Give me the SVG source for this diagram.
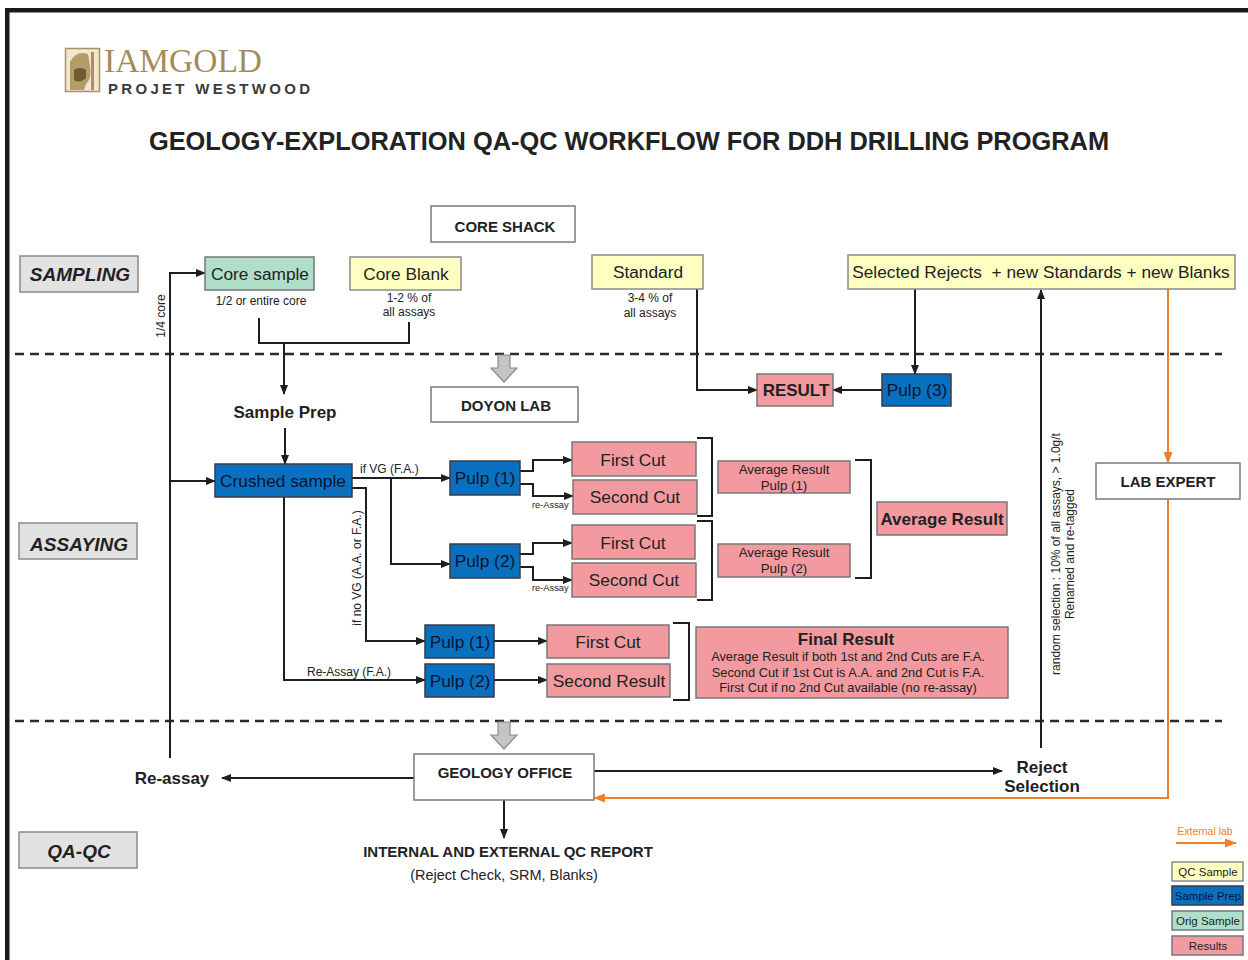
<svg xmlns="http://www.w3.org/2000/svg" width="1248" height="960" viewBox="0 0 1248 960">
<defs>
<marker id="ah" markerUnits="userSpaceOnUse" markerWidth="10" markerHeight="8" refX="9" refY="4" orient="auto"><path d="M0,0 L10,4 L0,8 Z" fill="#1e1e1e"/></marker>
<marker id="aho" markerUnits="userSpaceOnUse" markerWidth="12" markerHeight="9" refX="11" refY="4.5" orient="auto"><path d="M0,0 L12,4.5 L0,9 Z" fill="#ee8127"/></marker>
<style>
text{font-family:"Liberation Sans",Arial,sans-serif;fill:#222}
.b{font-weight:bold}
.c{text-anchor:middle}
.sec{fill:#e2e2e2;stroke:#8a8a8a;stroke-width:1.5}
.wht{fill:#fff;stroke:#7a7a7a;stroke-width:1.5}
.yel{fill:#ffffc2;stroke:#8a8a8a;stroke-width:1.5}
.grn{fill:#b0dfc9;stroke:#777;stroke-width:1.5}
.blu{fill:#0970bf;stroke:#3a3a4a;stroke-width:1.5}
.pnk{fill:#f29aa0;stroke:#777;stroke-width:1.5}
.bt{fill:#0c1530}
.ln{fill:none;stroke:#1e1e1e;stroke-width:2}
.or{fill:none;stroke:#ee8127;stroke-width:2}
.dash{fill:none;stroke:#2a2a2a;stroke-width:2.5;stroke-dasharray:9 6}
.gar{fill:#c4c4c4;stroke:#8a8a8a;stroke-width:1.2}
.t17{font-size:17.3px}
.t11{font-size:12px}
</style>
</defs>
<rect width="1248" height="960" fill="#fff"/>
<!-- frame -->
<rect x="5" y="8" width="1243" height="4.5" fill="#1e1a18"/>
<rect x="5" y="8" width="4.5" height="952" fill="#1e1a18"/>

<!-- logo -->
<g id="logo">
<rect x="65.5" y="48.5" width="34" height="43" fill="#efe7d2" stroke="#a8925e" stroke-width="1.5"/>
<path d="M70,90 L70,62 Q76,50 88,54 L90,66 Q92,78 86,84 L84,90 Z" fill="#b39c68"/>
<path d="M74,70 Q80,66 86,70 L86,78 Q80,84 74,80 Z" fill="#6e5a34"/>
<rect x="91" y="52" width="3" height="38" fill="#a8925e"/>
<text x="104" y="72" font-size="33" textLength="158" lengthAdjust="spacingAndGlyphs" style="font-family:'Liberation Serif',serif;fill:#a48c5a">IAMGOLD</text>
<text x="108" y="93.5" font-size="15" textLength="202" lengthAdjust="spacing" class="b" style="fill:#3a3a3a">PROJET WESTWOOD</text>
</g>

<text id="title" x="629" y="150" class="b c" font-size="25.4">GEOLOGY-EXPLORATION QA-QC WORKFLOW FOR DDH DRILLING PROGRAM</text>

<!-- section separators -->
<g id="separators">
<line class="dash" x1="15" y1="354" x2="1222" y2="354"/>
<line class="dash" x1="15" y1="721" x2="1222" y2="721"/>
</g>

<!-- section labels -->
<g id="sec-sampling"><rect class="sec" x="20" y="256" width="118" height="36"/><text x="80" y="281" class="b c" font-size="19" font-style="italic">SAMPLING</text></g>
<g id="sec-assaying"><rect class="sec" x="19" y="523" width="118" height="36"/><text x="79" y="551" class="b c" font-size="19" font-style="italic">ASSAYING</text></g>
<g id="sec-qaqc"><rect class="sec" x="19" y="832" width="118" height="36"/><text x="79" y="858" class="b c" font-size="19" font-style="italic">QA-QC</text></g>

<!-- connectors -->
<g id="connectors">
<path class="ln" d="M259,318 V343 H409 V322"/>
<path class="ln" d="M284,343 V394" marker-end="url(#ah)"/>
<path class="ln" d="M285,428 V464" marker-end="url(#ah)"/>
<path class="ln" d="M170,758 V273 H205" marker-end="url(#ah)"/>
<path class="ln" d="M170,481 H215" marker-end="url(#ah)"/>
<path class="ln" d="M352,478 H450" marker-end="url(#ah)"/>
<path class="ln" d="M391,478 V564 H450" marker-end="url(#ah)"/>
<path class="ln" d="M352,488 H366 V641 H425" marker-end="url(#ah)"/>
<path class="ln" d="M284,497 V680 H425" marker-end="url(#ah)"/>
<path class="ln" d="M520,471 H533 V460 H572" marker-end="url(#ah)"/>
<path class="ln" d="M520,484 H533 V496 H573" marker-end="url(#ah)"/>
<path class="ln" d="M520,554 H533 V543 H572" marker-end="url(#ah)"/>
<path class="ln" d="M520,567 H533 V580 H572" marker-end="url(#ah)"/>
<path class="ln" d="M494,641 H547" marker-end="url(#ah)"/>
<path class="ln" d="M494,680 H547" marker-end="url(#ah)"/>
<path class="ln" d="M697,289 V390 H757" marker-end="url(#ah)"/>
<path class="ln" d="M882,390 H833" marker-end="url(#ah)"/>
<path class="ln" d="M915,289 V374" marker-end="url(#ah)"/>
<path class="ln" d="M1041,748 V290" marker-end="url(#ah)"/>
<path class="or" d="M1168,289 V463" marker-end="url(#aho)"/>
<path class="or" d="M1168,499 V798 H594" marker-end="url(#aho)"/>
<path class="ln" d="M414,778 H222" marker-end="url(#ah)"/>
<path class="ln" d="M594,771 H1002" marker-end="url(#ah)"/>
<path class="ln" d="M504,800 V838" marker-end="url(#ah)"/>
<!-- brackets -->
<path class="ln" d="M697,438 H712 V516 H697"/>
<path class="ln" d="M697,521 H712 V600 H697"/>
<path class="ln" d="M855,460 H871 V578 H855"/>
<path class="ln" d="M673,623 H689 V700 H673"/>
<!-- gray block arrows -->
<polygon class="gar" points="498,355 510,355 510,368 517,368 504,382 491,368 498,368"/>
<polygon class="gar" points="498,722 510,722 510,735 517,735 504,749 491,735 498,735"/>
</g>

<!-- nodes -->
<g id="core-shack"><rect class="wht" x="431" y="206" width="144" height="36"/><text x="505" y="232" class="b c" font-size="15">CORE SHACK</text></g>
<g id="core-sample"><rect class="grn" x="205" y="257" width="109" height="33"/><text x="260" y="280" class="c t17">Core sample</text><text x="261" y="305" class="c t11">1/2 or entire core</text></g>
<g id="core-blank"><rect class="yel" x="350" y="257" width="111" height="33"/><text x="406" y="280" class="c t17">Core Blank</text><text x="409" y="302" class="c t11">1-2 % of</text><text x="409" y="316" class="c t11">all assays</text></g>
<g id="standard"><rect class="yel" x="592" y="255" width="111" height="34"/><text x="648" y="278" class="c t17">Standard</text><text x="650" y="302" class="c t11">3-4 % of</text><text x="650" y="317" class="c t11">all assays</text></g>
<g id="selected-rejects"><rect class="yel" x="848" y="255" width="387" height="34"/><text x="1041" y="278" class="c t17" xml:space="preserve">Selected Rejects  + new Standards + new Blanks</text></g>
<g id="label-14core"><text transform="translate(165,316) rotate(-90)" class="c t11">1/4 core</text></g>
<g id="sample-prep"><text x="285" y="418" class="b c" font-size="17">Sample Prep</text></g>
<g id="doyon-lab"><rect class="wht" x="431" y="387" width="147" height="35"/><text x="506" y="411" class="b c" font-size="15">DOYON LAB</text></g>
<g id="result"><rect class="pnk" x="757" y="374" width="76" height="32"/><text x="796" y="396" class="b c" font-size="17">RESULT</text></g>
<g id="pulp3"><rect class="blu" x="882" y="374" width="69" height="32"/><text x="917" y="396" class="c t17 bt">Pulp (3)</text></g>
<g id="lab-expert"><rect class="wht" x="1096" y="463" width="144" height="36"/><text x="1168" y="487" class="b c" font-size="15">LAB EXPERT</text></g>
<g id="random-label"><text transform="translate(1060,554) rotate(-90)" class="c" font-size="12">random selection : 10% of all assays, &gt; 1.0g/t</text><text transform="translate(1074,554) rotate(-90)" class="c" font-size="12">Renamed and re-tagged</text></g>

<g id="crushed-sample"><rect class="blu" x="215" y="464" width="137" height="33"/><text x="283" y="487" class="c t17 bt">Crushed sample</text></g>
<g id="lbl-vg"><text x="360" y="473" class="t11">if VG (F.A.)</text></g>
<g id="lbl-novg"><text transform="translate(361,568) rotate(-90)" class="c t11">if no VG (A.A. or F.A.)</text></g>
<g id="lbl-reassayfa"><text x="307" y="676" class="t11">Re-Assay (F.A.)</text></g>

<g id="pulp1a"><rect class="blu" x="450" y="461" width="70" height="34"/><text x="485" y="484" class="c t17 bt">Pulp (1)</text></g>
<g id="pulp2a"><rect class="blu" x="450" y="544" width="70" height="34"/><text x="485" y="567" class="c t17 bt">Pulp (2)</text></g>
<g id="reassay-lbl"><text x="532" y="508" font-size="9.3">re-Assay</text><text x="532" y="591" font-size="9.3">re-Assay</text></g>
<g id="first-cut1"><rect class="pnk" x="572" y="442" width="124" height="34"/><text x="633" y="466" class="c t17">First Cut</text></g>
<g id="second-cut1"><rect class="pnk" x="573" y="480" width="124" height="34"/><text x="635" y="503" class="c t17">Second Cut</text></g>
<g id="first-cut2"><rect class="pnk" x="572" y="525" width="123" height="34"/><text x="633" y="549" class="c t17">First Cut</text></g>
<g id="second-cut2"><rect class="pnk" x="572" y="563" width="124" height="34"/><text x="634" y="586" class="c t17">Second Cut</text></g>
<g id="avg-pulp1"><rect class="pnk" x="718" y="461" width="132" height="32"/><text x="784" y="474" class="c" font-size="13.3">Average Result</text><text x="784" y="490" class="c" font-size="13.3">Pulp (1)</text></g>
<g id="avg-pulp2"><rect class="pnk" x="718" y="544" width="132" height="33"/><text x="784" y="557" class="c" font-size="13.3">Average Result</text><text x="784" y="573" class="c" font-size="13.3">Pulp (2)</text></g>
<g id="avg-result"><rect class="pnk" x="877" y="502" width="130" height="33"/><text x="942" y="525" class="b c" font-size="17">Average Result</text></g>

<g id="pulp1b"><rect class="blu" x="425" y="625" width="69" height="33"/><text x="460" y="648" class="c t17 bt">Pulp (1)</text></g>
<g id="pulp2b"><rect class="blu" x="425" y="664" width="69" height="33"/><text x="460" y="687" class="c t17 bt">Pulp (2)</text></g>
<g id="first-cut3"><rect class="pnk" x="547" y="625" width="122" height="33"/><text x="608" y="648" class="c t17">First Cut</text></g>
<g id="second-result"><rect class="pnk" x="547" y="664" width="123" height="33"/><text x="609" y="687" class="c t17">Second Result</text></g>
<g id="final-result"><rect class="pnk" x="696" y="627" width="312" height="71"/><text x="846" y="645" class="b c" font-size="17">Final Result</text><text x="848" y="661" class="c" font-size="12.8">Average Result if both 1st and 2nd Cuts are F.A.</text><text x="848" y="677" class="c" font-size="12.8">Second Cut if 1st Cut is A.A. and 2nd Cut is F.A.</text><text x="848" y="692" class="c" font-size="12.8">First Cut if no 2nd Cut available (no re-assay)</text></g>

<g id="geology-office"><rect class="wht" x="414" y="754" width="180" height="46"/><text x="505" y="778" class="b c" font-size="15">GEOLOGY OFFICE</text></g>
<g id="re-assay"><text x="172" y="784" class="b c" font-size="17">Re-assay</text></g>
<g id="reject-selection"><text x="1042" y="773" class="b c" font-size="17">Reject</text><text x="1042" y="792" class="b c" font-size="17">Selection</text></g>
<g id="qc-report"><text x="508" y="857" class="b c" font-size="15">INTERNAL AND EXTERNAL QC REPORT</text><text x="504" y="880" class="c" font-size="14.5">(Reject Check, SRM, Blanks)</text></g>

<!-- legend -->
<g id="legend">
<text x="1205" y="835" class="c" font-size="10.5" style="fill:#ee8127">External lab</text>
<path class="or" d="M1176,843 H1236" marker-end="url(#aho)"/>
<rect class="yel" x="1172" y="862" width="71" height="19"/><text x="1208" y="876" class="c" font-size="11.5">QC Sample</text>
<rect class="blu" x="1172" y="886" width="71" height="19"/><text x="1208" y="900" class="c bt" font-size="11.5">Sample Prep</text>
<rect class="grn" x="1172" y="911" width="71" height="19"/><text x="1208" y="925" class="c" font-size="11.5">Orig Sample</text>
<rect class="pnk" x="1172" y="936" width="71" height="19"/><text x="1208" y="950" class="c" font-size="11.5">Results</text>
</g>
</svg>
